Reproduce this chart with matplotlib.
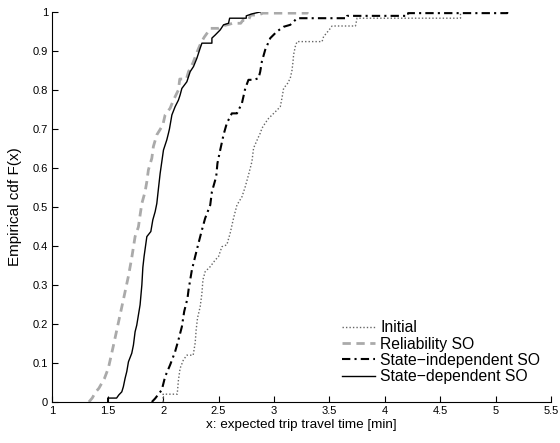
import matplotlib
matplotlib.use("Agg")
import matplotlib.pyplot as plt

plt.rcParams['font.family'] = ['Liberation Sans', 'DejaVu Sans']

# Read points (x = travel time, F = empirical cdf) for each series
init_x = [2.00, 2.00, 2.127, 2.138, 2.153, 2.183, 2.214, 2.271, 2.289, 2.298, 2.31, 2.334, 2.35, 2.359,
          2.379, 2.425, 2.47, 2.50, 2.53, 2.575, 2.605, 2.635, 2.666, 2.711, 2.741, 2.77, 2.801, 2.816,
          2.861, 2.876, 2.892, 2.921, 2.951, 3.012, 3.057, 3.072, 3.087, 3.123, 3.147, 3.163, 3.172,
          3.177, 3.192, 3.208, 3.434, 3.448, 3.472, 3.509, 3.524, 3.735, 3.75, 4.683, 4.683]
init_F = [0.0, 0.02, 0.02, 0.056, 0.086, 0.108, 0.12, 0.12, 0.151, 0.185, 0.215, 0.244, 0.279, 0.313,
          0.334, 0.347, 0.364, 0.373, 0.398, 0.403, 0.433, 0.471, 0.505, 0.526, 0.552, 0.582, 0.616, 0.651,
          0.68, 0.689, 0.702, 0.715, 0.727, 0.744, 0.757, 0.779, 0.804, 0.817, 0.83, 0.851, 0.873,
          0.89, 0.911, 0.924, 0.924, 0.937, 0.945, 0.958, 0.964, 0.964, 0.984, 0.984, 1.0]

rel_x = [1.33, 1.36, 1.39, 1.42, 1.446, 1.47, 1.506, 1.551, 1.596, 1.641, 1.687, 1.717, 1.747, 1.777,
         1.792, 1.808, 1.837, 1.853, 1.867, 1.898, 1.912, 1.943, 1.997, 2.018, 2.063, 2.093, 2.138, 2.15,
         2.21, 2.229, 2.27, 2.31, 2.34, 2.37, 2.395, 2.425, 2.50, 2.55, 2.63, 2.70, 2.72, 2.77, 2.79,
         2.86, 2.90, 3.30, 3.30]
rel_F = [0.0, 0.01, 0.025, 0.035, 0.048, 0.06, 0.087, 0.144, 0.203, 0.262, 0.323, 0.37, 0.424, 0.449,
         0.479, 0.509, 0.539, 0.565, 0.595, 0.625, 0.655, 0.685, 0.71, 0.736, 0.753, 0.774, 0.80, 0.828,
         0.828, 0.847, 0.87, 0.90, 0.92, 0.935, 0.945, 0.958, 0.958, 0.965, 0.971, 0.971, 0.979, 0.979, 0.992,
         0.992, 0.997, 0.997, 1.0]

si_x = [1.898, 1.928, 1.988, 2.018, 2.063, 2.108, 2.138, 2.169, 2.19, 2.22, 2.229, 2.259, 2.289, 2.319,
        2.35, 2.379, 2.425, 2.44, 2.479, 2.49, 2.515, 2.545, 2.575, 2.62, 2.666, 2.711, 2.741, 2.77, 2.816,
        2.861, 2.876, 2.891, 2.921, 2.967, 3.027, 3.087, 3.147, 3.177, 3.208, 3.66, 3.66, 4.21, 4.21,
        5.105, 5.105]
si_F = [0.0, 0.009, 0.031, 0.065, 0.095, 0.129, 0.159, 0.193, 0.232, 0.266, 0.287, 0.338, 0.373, 0.407,
        0.441, 0.471, 0.505, 0.539, 0.578, 0.612, 0.646, 0.685, 0.715, 0.74, 0.74, 0.766, 0.804, 0.826, 0.826,
        0.83, 0.847, 0.873, 0.903, 0.933, 0.95, 0.962, 0.967, 0.975, 0.984, 0.984, 0.99, 0.99, 0.997,
        0.997, 1.0]

sd_x = [1.50, 1.50, 1.58, 1.60, 1.627, 1.641, 1.657, 1.672, 1.687, 1.717, 1.732, 1.747, 1.762, 1.777,
        1.792, 1.808, 1.817, 1.828, 1.853, 1.889, 1.907, 1.928, 1.943, 1.958, 1.973, 1.988, 2.003, 2.033,
        2.048, 2.057, 2.079, 2.108, 2.138, 2.153, 2.169, 2.214, 2.244, 2.274, 2.304, 2.334, 2.35, 2.44,
        2.44, 2.47, 2.515, 2.545, 2.59, 2.60, 2.75, 2.75, 2.80, 2.876]
sd_F = [0.0, 0.01, 0.01, 0.018, 0.026, 0.039, 0.061, 0.078, 0.103, 0.125, 0.146, 0.18, 0.197, 0.223,
        0.249, 0.30, 0.345, 0.373, 0.424, 0.437, 0.467, 0.488, 0.509, 0.548, 0.586, 0.616, 0.646, 0.672,
        0.689, 0.70, 0.736, 0.757, 0.774, 0.787, 0.804, 0.821, 0.847, 0.86, 0.881, 0.907, 0.92, 0.92,
        0.933, 0.941, 0.954, 0.967, 0.971, 0.984, 0.984, 0.99, 0.995, 1.0]

labels = ["Initial", "Reliability SO", "State\u2212independent SO", "State\u2212dependent SO"]
x_ticks = [1, 1.5, 2, 2.5, 3, 3.5, 4, 4.5, 5, 5.5]
y_ticks = [0, 0.1, 0.2, 0.3, 0.4, 0.5, 0.6, 0.7, 0.8, 0.9, 1]

fig = plt.figure(figsize=(5.6, 4.43), dpi=100)
ax = fig.add_axes([0.0934, 0.0926, 0.8906, 0.8804])

ax.plot(init_x, init_F, color='#666666', linestyle=(0, (1, 1.5)), lw=1.0, label=labels[0])
ax.plot(rel_x, rel_F, color='#aaaaaa', linestyle=(0, (3, 2)), lw=2.0, label=labels[1])
ax.plot(si_x, si_F, color='black', linestyle=(0, (4, 2, 1, 2)), lw=1.5, label=labels[2])
ax.plot(sd_x, sd_F, color='black', linestyle='-', lw=1.0, label=labels[3])

ax.set_xlim(1, 5.5)
ax.set_ylim(0, 1)
ax.set_xticks(x_ticks)
ax.set_xticklabels([f"{t:g}" for t in x_ticks])
ax.set_yticks(y_ticks)
ax.set_yticklabels([f"{t:g}" for t in y_ticks])
ax.tick_params(direction='in', length=4, width=0.8, labelsize=8, pad=3)
for s in ['top', 'right']:
    ax.spines[s].set_visible(False)
for s in ['left', 'bottom']:
    ax.spines[s].set_linewidth(0.8)

ax.set_xlabel("x: expected trip travel time [min]", fontsize=9.7, labelpad=2)
ax.set_ylabel("Empirical cdf F(x)", fontsize=11, labelpad=8)

leg = ax.legend(loc='lower right', frameon=False, fontsize=11.3, handlelength=2.1,
                handletextpad=0.3, labelspacing=0.08, borderaxespad=0, borderpad=0,
                bbox_to_anchor=(0.978, 0.046))

fig.savefig("out.png", dpi=100)
